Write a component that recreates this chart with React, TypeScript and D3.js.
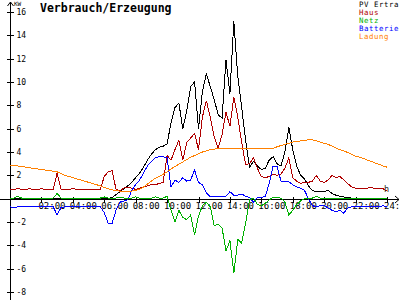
import React from 'react';
import * as d3 from 'd3';

// sample interval (hours) of the series below, starting 00:00
const STEP_HOURS = 0.25;

const pvErtrag = [
  0, 0, 0, 0, 0, 0, 0, 0, 0, 0, 0, 0, 0, 0, 0, 0, 0, 0, 0, 0, 0, 0, 0, 0, 0, 0,
  0.1, 0.35, 0.6, 0.85, 1.1, 1.4, 1.8, 2.2, 2.7, 3.3, 3.8, 4.2, 4.4, 4.5, 4.7,
  6.5, 7.8, 8.2, 6.0, 7.5, 9.6, 10.0, 6.0, 9.2, 10.7, 9.6, 8.5, 7.2, 6.9, 11.9,
  9.0, 15.2, 10.5, 7.8, 5.0, 2.7, 3.2, 2.8, 2.5, 2.6, 3.3, 3.6, 3.0, 2.8, 4.0,
  6.1, 4.2, 2.8, 2.0, 1.7, 1.1, 0.7, 0.6, 0.6, 0.6, 0.7, 0.45, 0.3, 0.2, 0.15,
  0.1, 0.05, 0, 0, 0, 0, 0, 0, 0, 0, 0,
];

const haus = [
  0.8, 0.8, 0.85, 0.8, 0.8, 0.85, 0.8, 0.8, 0.85, 0.8, 0.8, 0.8, 2.2, 0.8, 0.8,
  0.8, 0.85, 0.8, 0.8, 0.8, 0.8, 0.75, 0.8, 0.8, 1.9, 2.3, 2.4, 0.8, 0.7, 0.9,
  1.0, 0.9, 0.8, 0.9, 1.0, 1.1, 1.2, 1.2, 1.3, 1.4, 3.7, 3.3, 4.2, 5.0, 3.3,
  4.8, 5.2, 5.6, 4.2, 7.0, 8.4, 7.0, 5.3, 4.3, 5.5, 7.4, 6.2, 8.7, 7.0, 4.8,
  2.9, 3.0, 3.5, 2.6, 1.9, 1.8, 1.9, 2.1, 2.0, 2.1, 2.6, 3.5, 1.8, 1.5, 1.3,
  1.4, 1.4, 1.5, 2.0, 1.5, 1.4, 1.6, 2.0, 1.8, 1.9, 1.6, 1.3, 1.0, 0.9, 0.9,
  0.9, 0.9, 0.95, 0.85, 0.85, 0.85, 0.65,
];

const netz = [
  0.05, 0.05, 0.2, 0.05, 0.05, 0.05, 0.05, 0.05, 0.05, 0.05, 0.05, 0.05, 0.45,
  0.05, 0.05, 0.05, 0.05, 0.05, 0.05, 0.05, 0.05, 0.05, 0.05, 0.05, 0.15, 0.05,
  0.05, 0.05, 0.15, 0.05, 0.05, 0.05, 0.15, 0.05, 0.05, 0.05, 0.05, 0.15, 0.05,
  0.05, 0.2, -1.0, -2.0, -1.0, -1.6, -1.8, -1.4, -3.1, -1.5, -0.6, -0.3, -0.7,
  -2.3, -2.2, -2.5, -4.5, -3.6, -6.4, -3.5, -3.8, -2.1, -0.1, 0.05, -0.5, -0.6,
  -0.4, -0.1, 0.1, 0.1, 0.05, -0.3, -1.4, -1.0, -0.5, -0.2, 0.0, 0.05, 0.05,
  0.2, 0.05, 0.05, 0.05, 0.05, 0.05, 0.05, 0.05, 0.05, 0.05, 0.05, 0.05, 0.05,
  0.05, 0.05, 0.05, 0.05, 0.05, 0.05,
];

const batterie = [
  -0.7, -0.75, -0.7, -0.7, -0.65, -0.7, -0.7, -0.7, -0.65, -0.7, -0.7, -0.7,
  -1.4, -0.75, -0.7, -0.7, -0.7, -0.7, -0.65, -0.7, -0.7, -0.7, -0.7, -0.7,
  -1.2, -2.1, -2.1, -1.0, -0.3, -0.2, -0.1, 0.7, 1.2, 1.6, 2.2, 2.8, 3.2, 3.5,
  3.6, 3.6, 3.5, 1.0, 1.6, 1.4, 1.8, 1.5, 1.6, 2.45, 1.4, 1.2, 0.5, 0.15, 0.15,
  0.15, 0.15, 0.2, 0.6, 0.3, 0.3, 0.4, 0.2, 0.1, -0.3, 0.1, 0.1, 0.2, 1.3, 2.8,
  2.8, 1.5, 1.45, 1.45, 1.2, 1.0, 0.9, 0.7, 0.0, -0.6, -0.7, -0.6, -0.6, -0.8,
  -1.0, -1.1, -1.0, -1.25, -0.8, -0.7, -0.7, -0.7, -0.7, -0.7, -0.7, -0.7,
  -0.7, -0.6, -0.7,
];

const ladung = [
  2.85, 2.85, 2.8, 2.75, 2.7, 2.65, 2.6, 2.55, 2.5, 2.45, 2.4, 2.35, 2.3, 2.15,
  2.0, 1.9, 1.8, 1.7, 1.6, 1.5, 1.4, 1.3, 1.2, 1.1, 0.95, 0.85, 0.75, 0.7, 0.65,
  0.65, 0.65, 0.65, 0.7, 0.8, 1.0, 1.25, 1.5, 1.75, 1.9, 2.1, 2.3, 2.55, 2.75,
  2.95, 3.15, 3.35, 3.55, 3.7, 3.85, 4.0, 4.1, 4.2, 4.25, 4.3, 4.3, 4.3, 4.3,
  4.3, 4.3, 4.3, 4.3, 4.3, 4.3, 4.3, 4.3, 4.3, 4.3, 4.3, 4.45, 4.55, 4.65, 4.75,
  4.85, 4.9, 4.95, 5.0, 5.05, 5.05, 4.95, 4.85, 4.75, 4.65, 4.5, 4.35, 4.2,
  4.1, 3.95, 3.8, 3.65, 3.55, 3.45, 3.3, 3.2, 3.05, 2.95, 2.8, 2.7,
];

const xTickHours = [0, 2, 4, 6, 8, 10, 12, 14, 16, 18, 20, 22, 24];
const xTickLabels = ['', '02:00', '04:00', '06:00', '08:00', '10:00', '12:00', '14:00', '16:00', '18:00', '20:00', '22:00', '24:'];
const yTicks = [-8, -6, -4, -2, 2, 4, 6, 8, 10, 12, 14, 16];
const yTickLabels = ['-8', '-6', '-4', '-2', '2', '4', '6', '8', '10', '12', '14', '16'];

const seriesNames = ['PV Ertra', 'Haus', 'Netz', 'Batterie', 'Ladung'];
const seriesColors = ['#000000', '#b00000', '#00b000', '#0000ff', '#ff8000'];

const TITLE = 'Verbrauch/Erzeugung';
const UNIT = 'KW';

const MONO = "'DejaVu Sans Mono', monospace";

export default function App() {
  const W = 400;
  const H = 300;
  const x = d3.scaleLinear().domain([0, 24]).range([10, 387]);
  const y = d3.scaleLinear().domain([-8, 16]).range([292, 12]);
  const y0 = Math.round(y(0)) + 0.5;
  const ax = 10.5;

  const line = d3
    .line<number>()
    .x((_, i) => x(i * STEP_HOURS))
    .y((d) => y(d));

  const drawOrder = [
    { data: pvErtrag, color: seriesColors[0] },
    { data: haus, color: seriesColors[1] },
    { data: batterie, color: seriesColors[3] },
    { data: netz, color: seriesColors[2] },
    { data: ladung, color: seriesColors[4] },
  ];

  return (
    <svg
      width={W}
      height={H}
      style={{ position: 'fixed', left: 0, top: 0, background: '#fff' }}
      fontFamily={MONO}
    >
      <rect x={0} y={0} width={W} height={H} fill="#fff" />
      {/* y axis */}
      <line x1={ax} y1={2} x2={ax} y2={H} stroke="#000" shapeRendering="crispEdges" />
      <polyline points={`${ax - 3},6 ${ax},2 ${ax + 3},6`} fill="none" stroke="#000" />
      <text x={14} y={6} fontSize={6} fill="#000">{UNIT}</text>
      {yTicks.map((v, i) => (
        <g key={'yt' + v}>
          <line x1={7} x2={14} y1={Math.round(y(v)) + 0.5} y2={Math.round(y(v)) + 0.5} stroke="#000" shapeRendering="crispEdges" />
          <text x={16.5} y={y(v)} dy="0.38em" fontSize={8} fill="#000">{yTickLabels[i]}</text>
        </g>
      ))}
      {/* x axis */}
      <line x1={0} y1={y0} x2={399} y2={y0} stroke="#000" shapeRendering="crispEdges" />
      <polyline points={`395,${y0 - 3.5} 399,${y0} 395,${y0 + 3.5}`} fill="none" stroke="#000" />
      {xTickHours.map((h, i) => (
        <g key={'xt' + h}>
          <line x1={Math.round(x(h)) + 0.5} x2={Math.round(x(h)) + 0.5} y1={y0 - 3} y2={y0 + 3} stroke="#000" shapeRendering="crispEdges" />
          <text x={x(h) - 3} y={208.5} fontSize={9} fill="#000">{xTickLabels[i]}</text>
        </g>
      ))}
      {/* series */}
      {drawOrder.map((s, i) => (
        <path
          key={'s' + i}
          d={line(s.data) || ''}
          fill="none"
          stroke={s.color}
          strokeWidth={1}
          shapeRendering="crispEdges"
        />
      ))}
      <text x={384} y={192} fontSize={8.5} fill="#222">h</text>
      {/* title */}
      <text x={40} y={11.5} fontSize={11.5} fontWeight="bold" fill="#000">{TITLE}</text>
      {/* legend */}
      {seriesNames.map((n, i) => (
        <text key={'lg' + n} x={359} y={7 + i * 7.9} fontSize={7.4} letterSpacing={0.55} fill={seriesColors[i]}>{n}</text>
      ))}
    </svg>
  );
}
